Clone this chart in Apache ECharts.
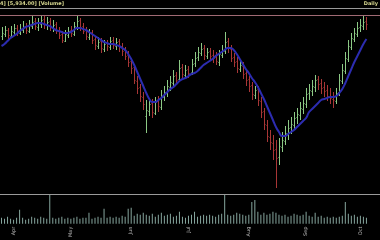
<!DOCTYPE html>
<html><head><meta charset="utf-8">
<script src="https://cdn.jsdelivr.net/npm/echarts@6/dist/echarts.min.js"></script>
<style>html,body{margin:0;padding:0;background:#000}#c{width:380px;height:240px}</style>
</head><body><div id="c"></div>
<script>
const openP  = [5814,5834,5874,5814,5854,5894,5844,5874,5914,5864,5914,5964,5904,5934,5984,5924,5964,5894,5934,5874,5834,5764,5824,5874,5834,5904,5974,5914,5874,5804,5854,5784,5714,5764,5684,5744,5704,5774,5714,5764,5714,5674,5624,5564,5504,5364,5304,5204,5014,5064,5144,5044,5164,5104,5204,5244,5304,5344,5424,5384,5504,5424,5484,5454,5544,5604,5644,5694,5614,5664,5624,5604,5554,5624,5664,5764,5684,5604,5564,5484,5514,5444,5384,5324,5224,5284,5164,5064,4924,4804,4744,4684,4604,4704,4764,4834,4904,4924,5004,5024,5084,5134,5244,5264,5304,5384,5344,5304,5274,5204,5184,5164,5254,5364,5464,5584,5704,5784,5834,5904,5914,5964];
const highP  = [5904,5914,5894,5914,5934,5924,5934,5964,5944,5974,6014,5994,5994,6024,6014,6004,5994,5974,5954,5904,5864,5874,5904,5914,5954,6014,5994,5944,5904,5884,5874,5814,5804,5794,5774,5774,5804,5804,5794,5784,5744,5704,5664,5594,5534,5414,5334,5254,5174,5194,5184,5204,5214,5274,5314,5374,5414,5474,5454,5574,5534,5524,5514,5584,5654,5704,5744,5724,5694,5694,5674,5654,5674,5724,5854,5794,5724,5644,5604,5574,5554,5474,5414,5354,5314,5314,5204,5094,4974,4874,4824,4774,4794,4854,4914,4974,5004,5054,5094,5154,5204,5294,5334,5374,5424,5414,5384,5354,5324,5294,5254,5294,5434,5534,5654,5774,5844,5894,5954,5984,6014,6004];
const lowP   = [5774,5804,5784,5794,5824,5814,5824,5844,5834,5844,5884,5874,5864,5894,5884,5874,5864,5854,5834,5784,5744,5754,5794,5804,5814,5874,5864,5834,5774,5774,5734,5674,5684,5644,5654,5664,5674,5684,5674,5654,5614,5574,5504,5434,5334,5234,5154,5074,4844,5014,4994,5024,5054,5074,5164,5204,5264,5314,5324,5354,5394,5384,5394,5424,5504,5564,5614,5574,5584,5564,5544,5524,5514,5594,5634,5644,5554,5504,5444,5454,5384,5314,5254,5174,5184,5114,4994,4874,4754,4674,4574,4294,4524,4654,4724,4774,4834,4874,4934,4974,5034,5094,5174,5214,5254,5274,5234,5204,5164,5134,5094,5134,5214,5334,5434,5554,5674,5754,5804,5854,5874,5874];
const closeP = [5844,5874,5824,5864,5894,5854,5884,5904,5874,5924,5954,5914,5944,5974,5934,5954,5904,5924,5864,5824,5774,5834,5864,5844,5914,5964,5904,5864,5814,5844,5774,5724,5754,5694,5734,5714,5764,5724,5754,5704,5664,5614,5554,5494,5374,5294,5214,5134,5074,5134,5054,5154,5114,5214,5254,5314,5354,5414,5374,5494,5434,5474,5444,5534,5594,5654,5684,5624,5654,5614,5594,5564,5634,5674,5754,5694,5594,5554,5494,5524,5434,5374,5314,5234,5274,5174,5054,4934,4814,4754,4674,4594,4714,4774,4844,4894,4934,4994,5034,5094,5144,5234,5274,5314,5374,5334,5294,5264,5214,5194,5174,5244,5374,5474,5594,5714,5794,5844,5894,5924,5954,5934];
const maP    = [5714,5734,5764,5794,5814,5834,5864,5884,5904,5914,5924,5934,5944,5944,5934,5924,5914,5894,5874,5864,5854,5844,5844,5854,5874,5894,5894,5884,5874,5854,5834,5814,5794,5774,5754,5744,5734,5734,5724,5714,5694,5674,5634,5584,5524,5454,5384,5314,5244,5184,5154,5154,5174,5194,5224,5254,5284,5304,5334,5364,5384,5394,5414,5434,5444,5464,5494,5524,5544,5564,5584,5614,5634,5654,5674,5694,5694,5674,5634,5584,5534,5484,5444,5394,5354,5304,5244,5184,5114,5044,4974,4904,4854,4814,4814,4834,4854,4874,4904,4934,4964,4994,5054,5084,5114,5144,5174,5184,5194,5204,5204,5214,5244,5284,5344,5414,5484,5554,5614,5674,5734,5784];
const volume = [600,500,700,500,400,600,1400,600,400,500,700,600,500,700,600,500,2900,600,500,600,700,500,600,500,600,700,500,600,600,1100,500,600,700,600,1500,600,700,600,700,600,800,700,1500,1600,800,1000,900,1100,900,800,1000,700,900,1100,800,900,1000,700,800,1200,700,600,800,900,1200,700,800,900,800,900,800,700,900,1000,2900,900,800,900,1100,1000,900,800,900,2200,2400,1200,900,1100,900,1000,1200,1100,900,800,900,700,800,1000,900,800,900,1200,800,700,1100,700,800,600,700,600,700,600,700,800,2200,1000,800,900,700,800,700,600];
const tickIdx  = [4, 23, 43, 62, 82, 101, 119];
const tickText = ['Apr', 'May', 'Jun', 'Jul', 'Aug', 'Sep', 'Oct'];
const headerText = '4] [5,934.00] [Volume]';
const periodText = 'Daily';

const nCat = 126;
const categories = Array.from({length: nCat}, (_, i) => String(i));
const ohlc = openP.map((o, i) => [i, o, highP[i], lowP[i], closeP[i]]);
const UP = '#8cc985', DOWN = '#a83636';

const chart = echarts.init(document.getElementById('c'), null, {renderer: 'canvas'});
chart.setOption({
  backgroundColor: '#000',
  animation: false,
  grid: [
    {left: 0, right: 0, top: 15, bottom: 46},
    {left: 0, right: 0, top: 194, bottom: 16}
  ],
  xAxis: [
    {type: 'category', gridIndex: 0, data: categories, boundaryGap: true,
     axisLine: {show: true, lineStyle: {color: '#9a9a9a', width: 1}},
     axisTick: {show: false}, axisLabel: {show: false}, splitLine: {show: false}},
    {type: 'category', gridIndex: 1, data: categories, boundaryGap: true,
     axisLine: {show: false}, axisTick: {show: false}, splitLine: {show: false},
     axisLabel: {show: true, rotate: 90, fontSize: 5, color: '#bbbbbb', margin: 3,
       fontFamily: 'DejaVu Sans',
       interval: (idx) => tickIdx.indexOf(idx) >= 0,
       formatter: (v, idx) => { const k = tickIdx.indexOf(Number(v)); return k >= 0 ? tickText[k] : ''; }}}
  ],
  yAxis: [
    {type: 'value', gridIndex: 0, min: 4234, max: 6024, show: false, splitLine: {show: false}},
    {type: 'value', gridIndex: 1, min: 0, max: 3000, show: false, splitLine: {show: false}}
  ],
  graphic: [
    {type: 'line', shape: {x1: 0, y1: 8.5, x2: 380, y2: 8.5}, style: {stroke: '#9a9a9a', lineWidth: 1}, silent: true},
    {type: 'text', left: 0, top: 1, style: {text: headerText, fill: '#d8d890', fontSize: 5, fontWeight: 'bold', fontFamily: 'DejaVu Sans'}},
    {type: 'text', right: 2, top: 1, style: {text: periodText, fill: '#d8d890', fontSize: 5, fontWeight: 'bold', fontFamily: 'DejaVu Sans'}}
  ],
  series: [
    {type: 'custom', xAxisIndex: 0, yAxisIndex: 0, data: ohlc,
     encode: {x: 0, y: [1, 2, 3, 4]},
     renderItem: (params, api) => {
       const i = api.value(0);
       const o = api.coord([i, api.value(1)]);
       const h = api.coord([i, api.value(2)]);
       const l = api.coord([i, api.value(3)]);
       const c = api.coord([i, api.value(4)]);
       const x = Math.round(o[0]) + 0.5;
       const color = api.value(4) >= api.value(1) ? UP : DOWN;
       const st = {stroke: color, lineWidth: 1};
       return {type: 'group', children: [
         {type: 'line', shape: {x1: x, y1: h[1], x2: x, y2: l[1]}, style: st},
         {type: 'line', shape: {x1: x - 1, y1: Math.round(o[1]) + 0.5, x2: x, y2: Math.round(o[1]) + 0.5}, style: st},
         {type: 'line', shape: {x1: x, y1: Math.round(c[1]) + 0.5, x2: x + 1, y2: Math.round(c[1]) + 0.5}, style: st}
       ]};
     }},
    {type: 'line', xAxisIndex: 0, yAxisIndex: 0, data: maP, symbol: 'none', smooth: true,
     lineStyle: {color: '#2c2cb0', width: 2},
     markLine: {silent: true, symbol: 'none', label: {show: false},
       lineStyle: {color: '#a06a74', width: 1, type: 'solid'},
       data: [{yAxis: 6024}]}},
    {type: 'bar', xAxisIndex: 1, yAxisIndex: 1, data: volume, barWidth: 1,
     itemStyle: {color: '#86a69e'}}
  ]
});
</script></body></html>
